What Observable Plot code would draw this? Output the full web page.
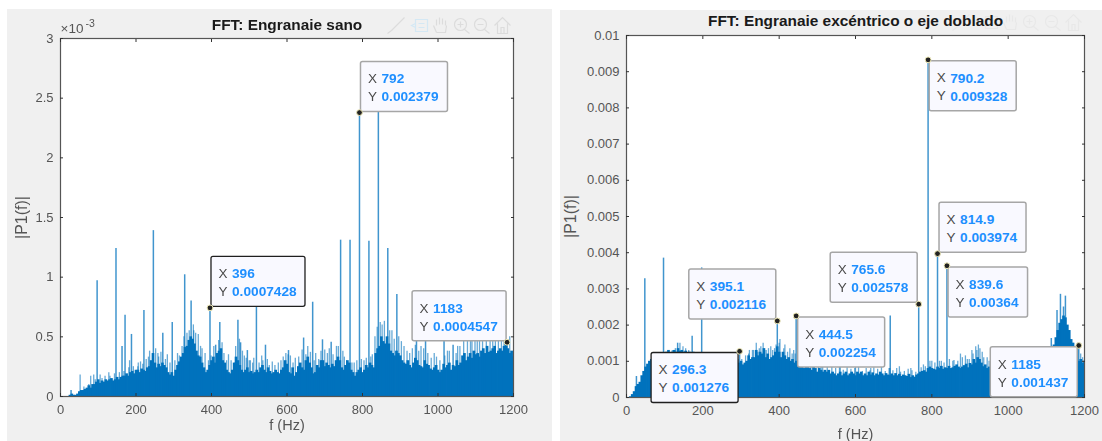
<!DOCTYPE html>
<html><head><meta charset="utf-8">
<script src="https://cdn.jsdelivr.net/npm/d3@7"></script>
<script src="https://cdn.jsdelivr.net/npm/@observablehq/plot@0.6"></script>
<style>
html,body{margin:0;padding:0;background:#fff;width:1102px;height:441px;overflow:hidden}
#wrap{position:relative;width:1102px;height:441px}
#wrap svg{position:absolute;max-width:none;filter:blur(0.35px)}
</style></head><body><div id="wrap"></div>
<script>
// Spectrum envelope, 5 Hz grid. Values in units of 1e-3.
const gridStepHz = 5;
const leftBody = [0,0,0,0,0,.01,
.02,.01,.01,.02,.04,.05,.05, .06,.07,.09,.07,.1,.1,.12, .14,.11,.13,.12,.14,.13,.14, .15,.13,.14,.16,.14,.16,.17,
.17,.19,.17,.2,.21,.19,.22, .22,.2,.23,.22,.21,.24,.25, .3,.36,.28,.24,.27,.25,.28, .26,.24,.2,.18,.2,.17,.22,
.26,.29,.33,.36,.41,.42,.47, .5,.48,.44,.38,.34,.33,.28, .24,.2,.22,.26,.3,.33,.28, .36,.38,.4,.3,.28,.22,.2,
.19,.22,.28,.33,.3,.26,.22, .2,.22,.24,.2,.21,.19,.2, .22,.2,.24,.26,.22,.2,.24, .21,.19,.2,.22,.2,.19,.22,
.24,.3,.27,.2,.19,.24,.17, .2,.25,.28,.24,.22,.3,.33, .28,.24,.19,.2,.26,.24,.3, .3,.25,.28,.26,.24,.27,.25,
.3,.33,.3,.24,.22,.26,.3, .28,.22,.2,.17,.2,.22,.24, .2,.22,.26,.24,.28,.26,.24, .36,.4,.42,.5,.46,.44,.5,
.44,.38,.36,.34,.38,.36,.34, .3,.28,.27,.3,.26,.24,.28, .32,.3,.26,.25,.24,.3,.27, .26,.23,.22,.24,.26,.22,.2,
.22,.27,.24,.26,.28,.22,.26, .25,.3,.26,.28,.34,.36,.3, .33,.36,.32,.38,.35,.36,.33, .38,.4,.36,.42,.37,.38,.4,
.42,.36,.38,.4,.38,.42,.44, .4,.36,.38,.33];
const leftFringeF = [52,80,88,110,128,183,205,218,236,260,283,315,322,353,365,375,392,415,428,445,461,487,500,512,536,553,590,603,622,655,676,700,731,752,778,804,822,852,878,903,925,955,990,1025,1052,1090,1110,1145,1160,1175];
const leftFringeV = [.18,.17,.18,.15,.2,.3,.25,.27,.38,.33,.35,.34,.42,.55,.52,.4,.3,.36,.45,.35,.28,.34,.3,.32,.3,.26,.33,.35,.32,.42,.36,.39,.42,.33,.28,.3,.33,.6,.55,.46,.36,.42,.36,.38,.42,.46,.48,.5,.54,.52];
const leftRagF = [62,75,92,105,118,131,143,156,168,181,193,206,212,227,233,252,258,266,278,290,303,310,327,335,341,352,358,371,383,399,406,419,433,440,452,464,474,482,492,503,509,526,533,548,561,568,577,584,597,609,616,631,640,650,662,672,684,690,707,712,722,736,748,758,772,785,797,810,826,833,839,847,858,872,884,896,910,918,932,940,949,962,973,982,996,1005,1018,1030,1048,1058,1068,1078,1086,1098,1104,1118,1128,1138,1152,1168,1190];
const leftRagV = [.08,.1,.14,.18,.17,.17,.19,.2,.21,.24,.25,.28,.29,.31,.33,.4,.36,.37,.31,.28,.3,.36,.5,.53,.55,.6,.53,.42,.36,.34,.42,.47,.36,.3,.3,.42,.48,.38,.32,.3,.28,.28,.34,.31,.29,.26,.28,.3,.36,.34,.28,.33,.39,.35,.37,.3,.31,.38,.36,.4,.35,.42,.38,.3,.28,.3,.31,.32,.35,.5,.58,.62,.63,.55,.48,.5,.42,.38,.4,.43,.38,.4,.36,.32,.33,.3,.34,.38,.36,.42,.46,.48,.47,.5,.49,.52,.5,.54,.55,.55,.5];
const leftSpikeF = [28,97,147,163,171,188,221,246,271,296,329,346,396,411,422,470,477,495,519,543,604,644,668,694,717,742,767,792,817,842,867,891,943,967,1016,1040,1183];
const leftSpikeV = [.05,.97,1.24,.42,.68,.52,.72,1.39,.53,.62,1.02,.8,.7428,.43,.62,.64,.45,.385,.76,.43,.385,.49,.79,.475,.455,1.31,1.31,2.379,1.3,2.42,1.24,.855,.47,.47,.46,.43,.4547];

const rightBody = [0,0,.02,.08,.16,.3,
.36,.42,.6,.72,.84,.92,1.0, 1.05,1.1,1.05,1.15,1.1,1.2,1.22, 1.2,1.25,1.3,1.2,1.25,1.3,1.25, 1.35,1.28,1.3,1.25,1.28,1.2,1.25,
1.2,1.25,1.2,1.15,1.2,1.15,1.1, 1.15,1.1,1.2,1.15,1.2,1.15,1.2, 1.1,1.15,1.1,1.15,1.1,1.2,1.15, 1.1,1.05,1.1,1.05,.95,1.0,.9,
.95,1.0,1.15,1.05,1.1,1.1,1.3, 1.15,1.25,1.2,1.35,1.1,1.2,1.05, 1.1,1.15,1.25,1.4,1.25,1.1,1.25, 1.15,1.05,1.1,1.0,1.05,.95,1.0,
.9,.95,.85,.8,.9,.85,.8, .75,.85,.8,.7,.8,.75,.7, .75,.7,.75,.65,.7,.65,.6, .65,.7,.6,.65,.7,.6,.65,
.7,.65,.6,.7,.65,.7,.6, .65,.6,.7,.62,.68,.6,.65, .62,.7,.65,.6,.66,.62,.6, .65,.6,.66,.6,.64,.58,.62,
.6,.58,.64,.55,.6,.56,.62, .65,.7,.72,.74,.7,.8,.84, .8,.78,.76,.84,.8,.86,.78, .82,.8,.86,.8,.82,.86,.9,
.84,.8,.84,.88,.92,.82,.94, .9,1.05,.95,1.1,1.05,.95,.85, .9,.8,.84,.78,.8,.76,.82, .8,.76,.8,.75,.78,.72,.74,
.75,.8,.78,.82,.85,.8,.85, .88,.85,.9,.95,.9,1.0,1.0, 1.05,1.0,1.1,1.15,1.1,1.2,1.25, 1.3,1.45,1.65,1.85,2.05,2.15,2.25,
2.2,2.0,1.85,1.6,1.5,1.4,1.3, 1.0,1.05,.95,1.0];
const rightFringeF = [120,128,140,148,155,163,320,330,340,348,358,366,378,388,402,415,428,438,455,470,510,560,600,640,690,715,745,778,800,825,855,875,893,905,915,922,932,945,985];
const rightFringeV = [1.3,1.35,1.5,1.4,1.35,1.3,1.2,1.3,1.5,1.35,1.5,1.3,1.4,1.35,1.6,1.45,1.35,1.3,1.1,1.0,.95,.85,.85,.8,.8,.85,.8,.9,1.0,1.0,1.0,1.2,1.05,1.3,1.4,1.45,1.25,1.1,1.0];
const rightRagF = [302,312,322,333,344,352,362,372,383,392,400,412,422,434,442,452,462,473,483,492,503,514,526,538,548,558,568,578,588,598,608,618,628,638,648,658,668,678,688,698,708,718,728,738,748,758,772,783,795,808,820,832,846,858,868,880,888,898,908,918,926,936,950,1100,1108,1162,1170,1178,1190,1195];
const rightRagV = [1.05,1.15,1.3,1.3,1.25,1.4,1.3,1.35,1.3,1.45,1.5,1.35,1.25,1.2,1.2,1.05,1.15,1.1,1.05,.95,1.0,.95,.85,.85,.8,.85,.75,.82,.78,.8,.85,.72,.8,.74,.82,.78,.86,.72,.8,.74,.8,.7,.72,.78,.74,.7,.82,.85,1.0,.95,1.0,.95,1.05,1.02,1.0,1.1,1.15,1.05,1.2,1.3,1.35,1.1,1.0,1.3,1.4,1.6,1.5,1.3,1.2,1.1];
const rightSpikeF = [26,48,97,134,172,197,296.3,395.1,444.5,691,765.6,790.2,814.9,839.6,1113,1128,1137,1145,1150,1185];
const rightSpikeV = [.58,3.28,3.85,1.5,1.69,3.58,1.276,2.116,2.254,2.25,2.578,9.328,3.974,3.64,1.63,2.4,2.85,2.5,2.8,1.437];

// Data tips
const leftTipX = [792,396,1183];
const leftTipY = [2.379,.7428,.4547];
const leftTipXText = ["792","396","1183"];
const leftTipYText = ["0.002379","0.0007428","0.0004547"];
const rightTipX = [296.3,395.1,444.5,765.6,790.2,814.9,839.6,1185];
const rightTipY = [.001276,.002116,.002254,.002578,.009328,.003974,.00364,.001437];
const rightTipYText = ["0.001276","0.002116","0.002254","0.002578","0.009328","0.003974","0.00364","0.001437"];
const rightTipXText = ["296.3","395.1","444.5","765.6","790.2","814.9","839.6","1185"];

// Tip placement in pixels relative to the marked point: box left, box top, box width; highlighted flag
const leftPlace = [[1.5,-50.7,87,0],[1.5,-51,94,1],[-94.5,-51,94,0]];
const rightPlace = [[-88,1.7,87,1],[-88,-51.3,87,0],[2,1.7,87,0],[-88,-51.4,87,0],[1.6,1.3,87,0],[2,-51,87,0],[1.6,1.7,79.5,0],[-88,1.7,87,0]];

const xTicks = [0,200,400,600,800,1000,1200];
const leftYTicks = [0,.5,1,1.5,2,2.5,3];
const rightYTicks = [0,.001,.002,.003,.004,.005,.006,.007,.008,.009,.01];

const BLUE="#0072BD", INK="#4a4a4a", VAL="#1e8fff";
const boxH=50;

function pathSymbol(fn){return {draw(c,s){fn(c);}};}
// Faint figure toolbar glyphs
const iconPaths = {
  brush:c=>{c.moveTo(9,-8);c.lineTo(-4,5);c.moveTo(-4,5);c.lineTo(-8,8);},
  tip:c=>{c.moveTo(-5,-6);c.lineTo(7,-6);c.lineTo(7,6);c.lineTo(-5,6);c.closePath();c.moveTo(-5,-2);c.lineTo(-9,0);c.lineTo(-5,2);c.moveTo(-2,-2);c.lineTo(4,-2);c.moveTo(-2,2);c.lineTo(4,2);},
  hand:c=>{c.moveTo(-4,7);c.lineTo(-7,0);c.moveTo(-4,0);c.lineTo(-4,-6);c.moveTo(-1,-1);c.lineTo(-1,-8);c.moveTo(2,-1);c.lineTo(2,-7);c.moveTo(5,0);c.lineTo(5,-5);c.moveTo(-4,7);c.lineTo(5,7);c.lineTo(6,0);},
  zin:c=>{c.moveTo(5,-1);c.arc(-1,-1,6,0,7);c.moveTo(3,4);c.lineTo(8,8);c.moveTo(-4,-1);c.lineTo(2,-1);c.moveTo(-1,-4);c.lineTo(-1,2);},
  zout:c=>{c.moveTo(5,-1);c.arc(-1,-1,6,0,7);c.moveTo(3,4);c.lineTo(8,8);c.moveTo(-4,-1);c.lineTo(2,-1);},
  home:c=>{c.moveTo(-8,0);c.lineTo(0,-8);c.lineTo(8,0);c.moveTo(-5,-2);c.lineTo(-5,8);c.lineTo(5,8);c.lineTo(5,-2);c.moveTo(-1.5,8);c.lineTo(-1.5,2);c.lineTo(1.5,2);c.lineTo(1.5,8);}
};
function toolbar(items,color,dy){
  return items.map(([name,dx,col])=>Plot.dot([0],{frameAnchor:"top-right",dx,dy,r:4,symbol:pathSymbol(iconPaths[name]),fill:"none",stroke:col||color,strokeWidth:1.2}));
}
function tipMarks(xs,ys,xt,yt,place){
  return xs.flatMap((x,i)=>{
    const [l,t,w,sel]=place[i], d=[{x,y:ys[i],xt:xt[i],yt:yt[i]}];
    return [
      Plot.rect(d,{x1:"x",x2:"x",y1:"y",y2:"y",insetLeft:0,insetRight:-w,insetTop:0,insetBottom:-boxH,dx:l,dy:t,
        fill:"#f9f9ff",stroke:sel?"#1f1f1f":"#a6a6a6",strokeWidth:sel?1.3:1.5,rx:2}),
      Plot.text(d,{x:"x",y:"y",text:()=>"X",dx:l+7,dy:t+17,textAnchor:"start",fill:INK,fontSize:13.5}),
      Plot.text(d,{x:"x",y:"y",text:()=>"Y",dx:l+7,dy:t+35,textAnchor:"start",fill:INK,fontSize:13.5}),
      Plot.text(d,{x:"x",y:"y",text:"xt",dx:l+20.5,dy:t+17,textAnchor:"start",fill:VAL,fontSize:13.7,fontWeight:"bold"}),
      Plot.text(d,{x:"x",y:"y",text:"yt",dx:l+20.5,dy:t+35,textAnchor:"start",fill:VAL,fontSize:13.7,fontWeight:"bold"}),
    ];
  }).concat([
    Plot.dot(xs.map((x,i)=>({x,y:ys[i]})),{x:"x",y:"y",r:2.9,fill:"#222",stroke:"#efeab8",strokeWidth:1})
  ]);
}
function panel(o){
  const toFrame=(fs,vs)=>fs.map((f,i)=>({f,v:vs[i]}));
  const body=o.body.map((v,i)=>({f:i*gridStepHz,v}));
  const p=Plot.plot({
    width:o.width,height:o.height,
    marginLeft:o.ml,marginRight:o.mr,marginTop:o.mt,marginBottom:o.mb,
    style:{background:"#f0f0f0",fontFamily:"'Liberation Sans',Arial,sans-serif",fontSize:"13px",overflow:"visible",left:o.left+"px",top:o.top+"px"},
    x:{domain:[0,1200]},
    y:{domain:o.domain},
    marks:[
      Plot.frame({fill:"#fff",stroke:"none"}),
      ...toolbar(o.icons,o.iconColor,o.iconDy),
      Plot.ruleX(toFrame(o.fringeF,o.fringeV),{x:"f",y:"v",stroke:BLUE,strokeOpacity:.6,strokeWidth:1.3,clip:true}),
      Plot.ruleX(toFrame(o.ragF,o.ragV),{x:"f",y:"v",stroke:BLUE,strokeOpacity:.6,strokeWidth:1.3,clip:true}),
      Plot.ruleX(toFrame(o.spikeF,o.spikeV),{x:"f",y:"v",stroke:BLUE,strokeOpacity:.75,strokeWidth:1.5,clip:true}),
      Plot.ruleX(body,{x:"f",y:"v",stroke:BLUE,strokeWidth:2.7,clip:true}),
      Plot.frame({stroke:"#555",strokeWidth:1.2}),
      Plot.axisX(xTicks,{anchor:"bottom",tickSize:0,tickPadding:8,label:null,tickFormat:d=>String(d),fill:"#555",fontSize:13}),
      Plot.axisX(xTicks,{anchor:"bottom",tickSize:-3,text:null,label:null,stroke:"#333"}),
      Plot.axisX(xTicks,{anchor:"top",tickSize:-3,text:null,label:null,stroke:"#333"}),
      Plot.axisY(o.yTicks,{anchor:"left",tickSize:0,tickPadding:7,label:null,tickFormat:d=>String(d),fill:"#555",fontSize:13}),
      Plot.axisY(o.yTicks,{anchor:"left",tickSize:-3,text:null,label:null,stroke:"#333"}),
      Plot.axisY(o.yTicks,{anchor:"right",tickSize:-3,text:null,label:null,stroke:"#333"}),
      Plot.text([o.title],{frameAnchor:"top",dy:o.titleDy,dx:o.titleDx||0,fontWeight:"bold",fontSize:15.4,fill:"#1a1a1a"}),
      Plot.text(["f (Hz)"],{frameAnchor:"bottom",dy:o.xlDy,fontSize:14.5,fill:"#555"}),
      Plot.text(["|P1(f)|"],{frameAnchor:"left",dx:o.ylDx,rotate:-90,textAnchor:"middle",fontSize:16,fill:"#555"}),
      ...(o.extra||[]),
      ...tipMarks(o.tipX,o.tipY,o.tipXT,o.tipYT,o.place)
    ]
  });
  document.getElementById("wrap").appendChild(p);
}
panel({left:7,top:9,width:545,height:432,ml:53,mr:39,mt:29,mb:45,domain:[0,3],yTicks:leftYTicks,
  body:leftBody,fringeF:leftFringeF,fringeV:leftFringeV,ragF:leftRagF,ragV:leftRagV,spikeF:leftSpikeF,spikeV:leftSpikeV,
  title:"FFT: Engranaie sano",titleDy:-19,xlDy:33,ylDx:-39,
  icons:[["brush",-118],["tip",-93,"#d4e8f4"],["hand",-73],["zin",-52],["zout",-32],["home",-11]],iconColor:"#dcdcdc",iconDy:-13,
  tipX:leftTipX,tipY:leftTipY,tipXT:leftTipXText,tipYT:leftTipYText,place:leftPlace,
  extra:[
    Plot.text(["×10"],{frameAnchor:"top-left",dx:0,dy:-15,textAnchor:"start",fontSize:13.5,fill:"#555"}),
    Plot.text(["-3"],{frameAnchor:"top-left",dx:25,dy:-19,textAnchor:"start",fontSize:10.5,fill:"#555"})
  ]});
panel({left:560,top:10,width:542,height:431,ml:66,mr:18,mt:25,mb:44,domain:[0,.01],yTicks:rightYTicks,
  body:rightBody.map(v=>v/1000),fringeF:rightFringeF,fringeV:rightFringeV.map(v=>v/1000),ragF:rightRagF,ragV:rightRagV.map(v=>v/1000),spikeF:rightSpikeF,spikeV:rightSpikeV.map(v=>v/1000),
  title:"FFT: Engranaie excéntrico o eje doblado",titleDy:-20,xlDy:41,ylDx:-56,
  icons:[["brush",-124],["tip",-94],["hand",-74],["zin",-54],["zout",-32],["home",-11]],iconColor:"#e8e8e8",iconDy:-13,
  tipX:rightTipX,tipY:rightTipY,tipXT:rightTipXText,tipYT:rightTipYText,place:rightPlace});
</script></body></html>
